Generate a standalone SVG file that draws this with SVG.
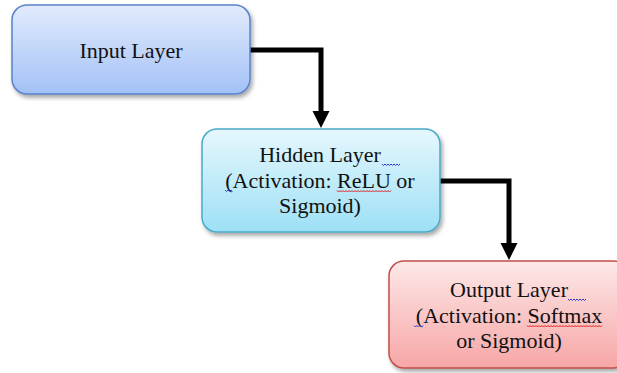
<svg xmlns="http://www.w3.org/2000/svg" width="617" height="373" viewBox="0 0 617 373">
  <defs>
    <linearGradient id="gBlue" x1="0" y1="0" x2="0" y2="1">
      <stop offset="0" stop-color="#e2ebfc"/>
      <stop offset="1" stop-color="#a3c1f7"/>
    </linearGradient>
    <linearGradient id="gCyan" x1="0" y1="0" x2="0" y2="1">
      <stop offset="0" stop-color="#e6f7fd"/>
      <stop offset="1" stop-color="#9de0f6"/>
    </linearGradient>
    <linearGradient id="gRed" x1="0" y1="0" x2="0" y2="1">
      <stop offset="0" stop-color="#fde8e8"/>
      <stop offset="1" stop-color="#f7a6a6"/>
    </linearGradient>
    <filter id="shadow" x="-10%" y="-10%" width="125%" height="130%">
      <feGaussianBlur in="SourceAlpha" stdDeviation="2"/>
      <feOffset dx="1.5" dy="3" result="b"/>
      <feComponentTransfer><feFuncA type="linear" slope="0.35"/></feComponentTransfer>
      <feMerge><feMergeNode/><feMergeNode in="SourceGraphic"/></feMerge>
    </filter>
  </defs>
  <style>
    .lbl { font-family: "Liberation Serif", "Times New Roman", serif; font-size: 22px; fill: #111; text-anchor: middle; }
    .conn { fill: none; stroke: #000; stroke-width: 5; stroke-linejoin: miter; }
    .head { fill: #000; }
    .sq-blue { fill: none; stroke: #2b3fd6; stroke-width: 1; }
    .sq-red { fill: none; stroke: #e02020; stroke-width: 1; }
  </style>

  <g id="connectors">
    <path class="conn" d="M250,50 H321 V113"/>
    <polygon class="head" points="312.5,111 329.5,111 321,128"/>
    <path class="conn" d="M440,181 H509 V245"/>
    <polygon class="head" points="500.5,243 517.5,243 509,260"/>
  </g>

  <g id="input-layer">
    <rect x="12" y="5" width="238" height="89" rx="15" fill="url(#gBlue)" stroke="#5a82c8" stroke-width="1.5" filter="url(#shadow)"/>
    <text class="lbl" x="131" y="57.5">Input Layer</text>
  </g>

  <g id="hidden-layer">
    <rect x="202" y="129" width="238" height="103" rx="15" fill="url(#gCyan)" stroke="#4aaac6" stroke-width="1.5" filter="url(#shadow)"/>
    <text class="lbl" x="320" y="162">Hidden Layer</text>
    <text class="lbl" x="320" y="188">(Activation: ReLU or</text>
    <text class="lbl" x="320" y="213">Sigmoid)</text>
    <path class="sq-blue" d="M382,164 l1.5,1.5 l1.5,-1.5 l1.5,1.5 l1.5,-1.5 l1.5,1.5 l1.5,-1.5 l1.5,1.5 l1.5,-1.5 l1.5,1.5 l1.5,-1.5 l1.5,1.5 l1.5,-1.5"/>
    <path class="sq-blue" d="M225,190 l1.5,1.5 l1.5,-1.5 l1.5,1.5 l1.5,-1.5 l1.5,1.5"/>
    <path class="sq-red" d="M337,190.5 l1.5,1.5 l1.5,-1.5 l1.5,1.5 l1.5,-1.5 l1.5,1.5 l1.5,-1.5 l1.5,1.5 l1.5,-1.5 l1.5,1.5 l1.5,-1.5 l1.5,1.5 l1.5,-1.5 l1.5,1.5 l1.5,-1.5 l1.5,1.5 l1.5,-1.5 l1.5,1.5 l1.5,-1.5 l1.5,1.5 l1.5,-1.5 l1.5,1.5 l1.5,-1.5 l1.5,1.5 l1.5,-1.5 l1.5,1.5 l1.5,-1.5 l1.5,1.5 l1.5,-1.5 l1.5,1.5 l1.5,-1.5 l1.5,1.5 l1.5,-1.5 l1.5,1.5 l1.5,-1.5 l1.5,1.5 l1.5,-1.5"/>
  </g>

  <g id="output-layer">
    <rect x="389" y="261" width="240" height="107" rx="15" fill="url(#gRed)" stroke="#c0504d" stroke-width="1.5" filter="url(#shadow)"/>
    <text class="lbl" x="509" y="297">Output Layer</text>
    <text class="lbl" x="509" y="323">(Activation: Softmax</text>
    <text class="lbl" x="509" y="348">or Sigmoid)</text>
    <path class="sq-blue" d="M568,299 l1.5,1.5 l1.5,-1.5 l1.5,1.5 l1.5,-1.5 l1.5,1.5 l1.5,-1.5 l1.5,1.5 l1.5,-1.5 l1.5,1.5 l1.5,-1.5 l1.5,1.5 l1.5,-1.5"/>
    <path class="sq-blue" d="M414,325.5 l1.5,1.5 l1.5,-1.5 l1.5,1.5 l1.5,-1.5 l1.5,1.5 l1.5,-1.5"/>
    <path class="sq-red" d="M527,325.5 l1.5,1.5 l1.5,-1.5 l1.5,1.5 l1.5,-1.5 l1.5,1.5 l1.5,-1.5 l1.5,1.5 l1.5,-1.5 l1.5,1.5 l1.5,-1.5 l1.5,1.5 l1.5,-1.5 l1.5,1.5 l1.5,-1.5 l1.5,1.5 l1.5,-1.5 l1.5,1.5 l1.5,-1.5 l1.5,1.5 l1.5,-1.5 l1.5,1.5 l1.5,-1.5 l1.5,1.5 l1.5,-1.5 l1.5,1.5 l1.5,-1.5 l1.5,1.5 l1.5,-1.5 l1.5,1.5 l1.5,-1.5 l1.5,1.5 l1.5,-1.5 l1.5,1.5 l1.5,-1.5 l1.5,1.5 l1.5,-1.5 l1.5,1.5 l1.5,-1.5 l1.5,1.5 l1.5,-1.5 l1.5,1.5 l1.5,-1.5 l1.5,1.5 l1.5,-1.5 l1.5,1.5 l1.5,-1.5 l1.5,1.5 l1.5,-1.5 l1.5,1.5 l1.5,-1.5"/>
  </g>
</svg>
